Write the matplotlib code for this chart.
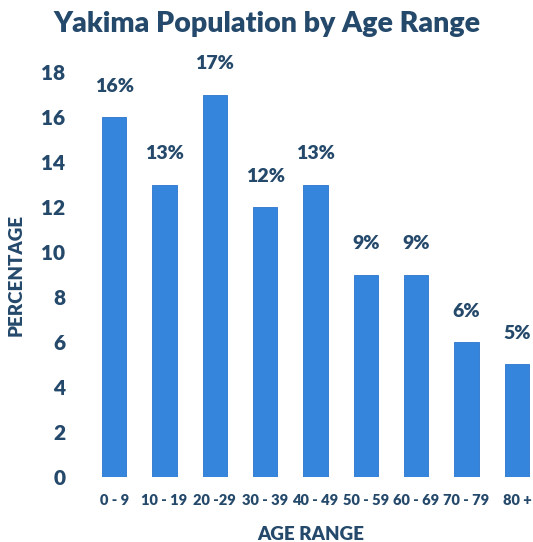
import matplotlib
matplotlib.use("Agg")
import matplotlib.pyplot as plt

categories = ["0 - 9", "10 - 19", "20 -29", "30 - 39", "40 - 49", "50 - 59", "60 - 69", "70 - 79", "80 +"]
values = [16, 13, 17, 12, 13, 9, 9, 6, 5]
yticks = [0, 2, 4, 6, 8, 10, 12, 14, 16, 18]

navy = "#24496b"
bar_color = "#3585dc"
W = "heavy"

plt.rcParams['font.family'] = ['Lato', 'DejaVu Sans']

fig = plt.figure(figsize=(5.33, 5.42), dpi=100)
ax = fig.add_axes([0.167, 0.12, 0.833, 0.747])

x = list(range(len(categories)))
ax.bar(x, values, width=0.48, color=bar_color, edgecolor="#2a74cc", linewidth=0.6)

for xi, v in zip(x, values):
    ax.annotate(f"{v}%", (xi, v), xytext=(0, 16), textcoords="offset points",
                ha="center", va="bottom", fontsize=14, fontweight=W,
                color=navy, annotation_clip=False)

ax.set_xlim(-0.5, 8.32)
ax.set_ylim(0, 18)
ax.set_yticks(yticks)
ax.set_yticklabels([str(t) for t in yticks], fontsize=15, fontweight=W, color=navy)
ax.set_xticks(x)
ax.set_xticklabels(categories, fontsize=10.5, fontweight=W, color=navy)
ax.tick_params(axis="y", length=0, pad=17)
ax.tick_params(axis="x", length=0, pad=12)
for s in ax.spines.values():
    s.set_visible(False)

ax.set_xlabel("AGE RANGE", fontsize=13.5, fontweight=W, color=navy, labelpad=14)
ax.set_ylabel("PERCENTAGE", fontsize=13.5, fontweight=W, color=navy, labelpad=12)

fig.text(0.5, 0.956, "Yakima Population by Age Range", ha="center", va="center",
         fontsize=20.5, fontweight=W, color=navy)

fig.savefig("out.png", dpi=100)
